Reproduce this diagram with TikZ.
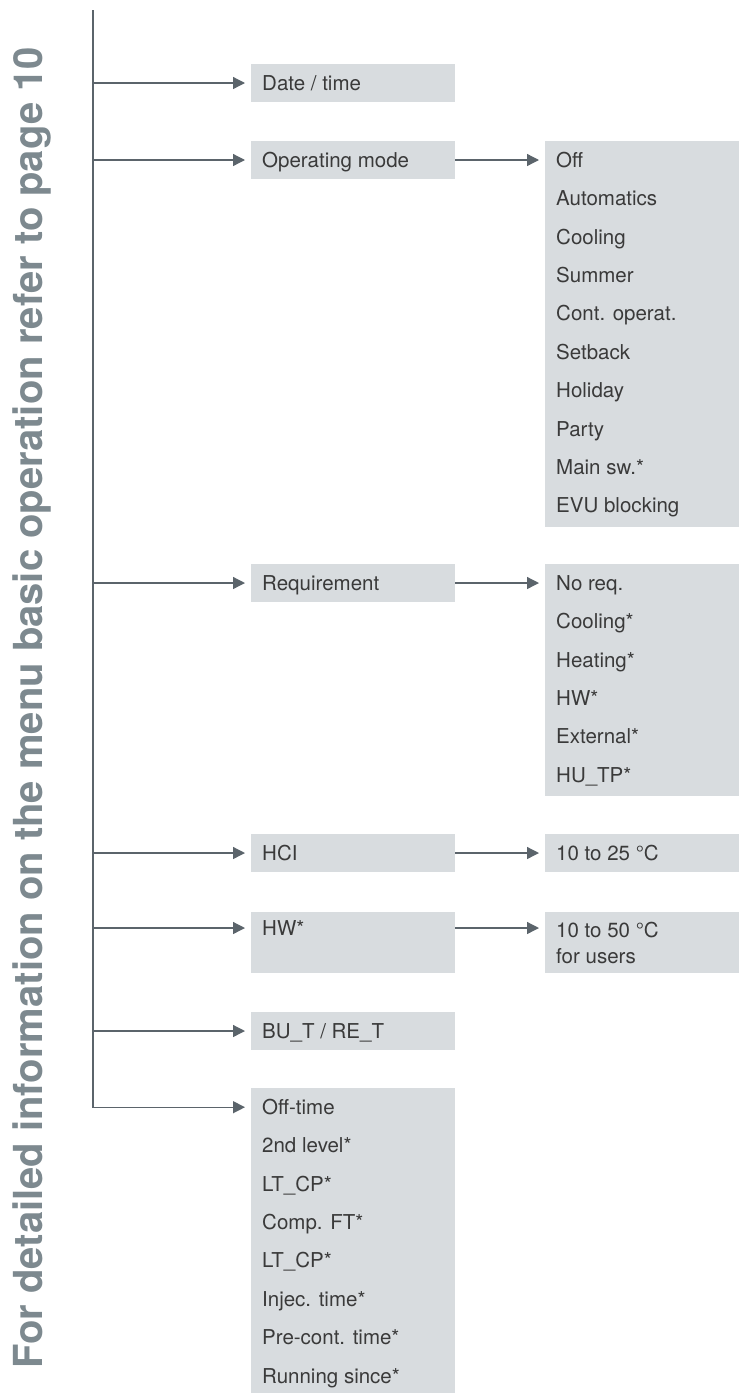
\documentclass[tikz,border=0pt]{standalone}
\usepackage{fontspec}
\setmainfont{TeX Gyre Heros}
\usetikzlibrary{arrows.meta,calc}
\definecolor{linegray}{HTML}{5B646B}
\definecolor{boxgray}{HTML}{D8DCDF}
\definecolor{txtgray}{HTML}{3A3A3A}
\definecolor{sidegray}{HTML}{7D898F}
\tikzset{
  menubox/.style={fill=boxgray,draw=none,anchor=north west,inner sep=0pt,minimum height=38pt},
  lvlone/.style={menubox,minimum width=204pt},
  lvltwo/.style={menubox,minimum width=194pt},
  item/.style={anchor=west,inner sep=0pt,text height=14pt,text depth=0pt,text=txtgray,font=\fontsize{20.5}{24}\selectfont},
  link/.style={draw=linegray,line width=1.3pt,-{Triangle[length=12pt,width=12pt]},shorten >=6pt},
}
\begin{document}
\begin{tikzpicture}[x=1pt,y=-1pt,declare function={P=38.4; F=19.2;}]
  \useasboundingbox (0,0) rectangle (739,1393);
  % side note
  \node[rotate=90,anchor=base west,inner sep=0pt,text=sidegray,font=\fontsize{40}{48}\selectfont\bfseries] (note) at (42,1369) {For detailed information on the menu basic operation refer to page 10};
  \coordinate (trunk) at (93,10);
  % first level
  \node[lvlone] (date) at (251,64) {};
  \node[item] (date-1) at ($(date.north west)+(11,19)$) {Date / time};
  \node[lvlone] (mode) at (251,141) {};
  \node[item] (mode-1) at ($(mode.north west)+(11,19)$) {Operating mode};
  \node[lvlone] (req) at (251,564) {};
  \node[item] (req-1) at ($(req.north west)+(11,19)$) {Requirement};
  \node[lvlone] (hci) at (251,834) {};
  \node[item] (hci-1) at ($(hci.north west)+(11,19)$) {HCI};
  \node[lvlone,minimum height=61pt] (hw) at (251,912) {};
  \node[item] (hw-1) at ($(hw.north west)+(11,16)$) {HW*};
  \node[lvlone] (bure) at (251,1012) {};
  \node[item] (bure-1) at ($(bure.north west)+(11,19)$) {BU\_T / RE\_T};
  \node[lvlone,minimum height=306pt] (off) at (251,1088) {};
  \foreach \t [count=\i] in {Off-time,2nd level*,LT\_CP*,Comp. FT*,LT\_CP*,Injec. time*,Pre-cont. time*,Running since*}
    \node[item] (off-\i) at ($(off.north west)+(11,F+P*\i-P)$) {\t};
  % second level
  \node[lvltwo,minimum height=386pt] (modelist) at (545,141) {};
  \foreach \t [count=\i] in {Off,Automatics,Cooling,Summer,Cont. operat.,Setback,Holiday,Party,Main sw.*,EVU blocking}
    \node[item] (modelist-\i) at ($(modelist.north west)+(11,F+P*\i-P)$) {\t};
  \node[lvltwo,minimum height=232pt] (reqlist) at (545,564) {};
  \foreach \t [count=\i] in {No req.,Cooling*,Heating*,HW*,External*,HU\_TP*}
    \node[item] (reqlist-\i) at ($(reqlist.north west)+(11,F+P*\i-P)$) {\t};
  \node[lvltwo] (hcirange) at (545,834) {};
  \node[item] (hcirange-1) at ($(hcirange.north west)+(11,19)$) {10 to 25 °C};
  \node[lvltwo,minimum height=61pt] (hwrange) at (545,912) {};
  \node[item] (hwrange-1) at ($(hwrange.north west)+(11,18)$) {10 to 50 °C};
  \node[item] (hwrange-2) at ($(hwrange.north west)+(11,44)$) {for users};
  % connectors
  \draw[link] (trunk) |- (off.west |- off-1.west);
  \foreach \n in {date,mode,req,hci,hw,bure}
    \draw[link] (trunk |- \n-1.west) -- (\n.west |- \n-1.west);
  \draw[link] (mode.east |- mode-1.west) -- (modelist.west |- mode-1.west);
  \draw[link] (req.east |- req-1.west) -- (reqlist.west |- req-1.west);
  \draw[link] (hci.east |- hci-1.west) -- (hcirange.west |- hci-1.west);
  \draw[link] (hw.east |- hw-1.west) -- (hwrange.west |- hw-1.west);
\end{tikzpicture}
\end{document}
